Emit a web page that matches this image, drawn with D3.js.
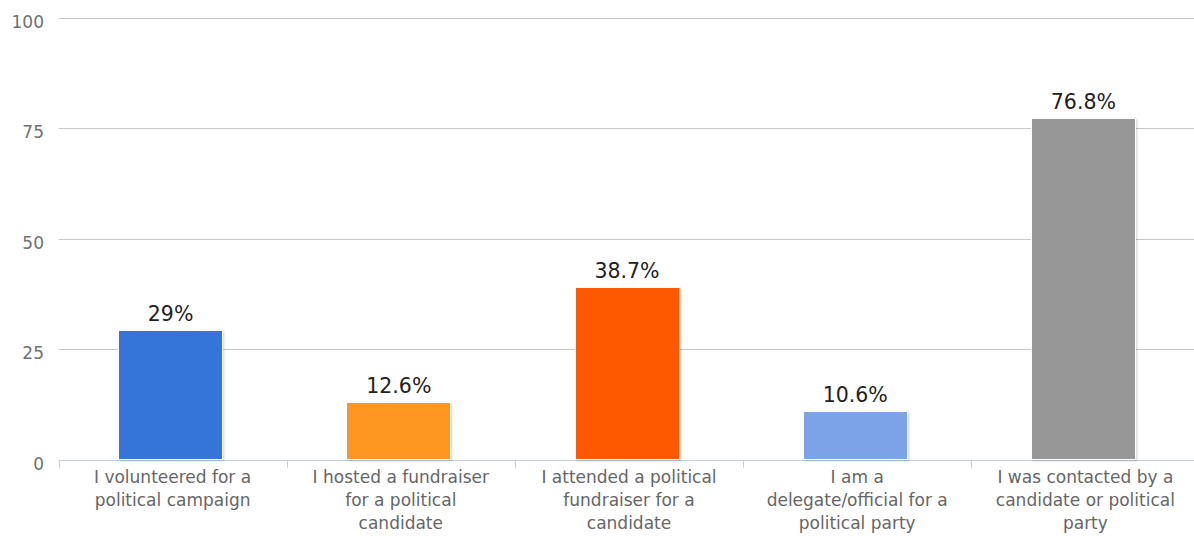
<!DOCTYPE html>
<html>
<head>
<meta charset="utf-8">
<script src="https://cdn.jsdelivr.net/npm/d3@7"></script>
<style>
  html, body { margin: 0; padding: 0; background: #fff; }
  svg { display: block; font-family: "DejaVu Sans", sans-serif; }
</style>
</head>
<body>
<svg id="chart" width="1194" height="536"></svg>
<script>
const categories = [
  "I volunteered for a\npolitical campaign",
  "I hosted a fundraiser\nfor a political\ncandidate",
  "I attended a political\nfundraiser for a\ncandidate",
  "I am a\ndelegate/official for a\npolitical party",
  "I was contacted by a\ncandidate or political\nparty"
];
const values = [29, 12.6, 38.7, 10.6, 76.8];
const valueLabels = ["29%", "12.6%", "38.7%", "10.6%", "76.8%"];
const colors = ["#3674DA", "#FE9720", "#FE5905", "#7BA3E7", "#979797"];
const yTicks = [0, 25, 50, 75, 100];

const svg = d3.select("#chart");
const margin = { left: 58.5, right: 1199.5, top: 17.5, bottom: 460 };

const defs = svg.append("defs");
const f = defs.append("filter").attr("id", "shadow")
  .attr("x", "-10%").attr("y", "-10%").attr("width", "130%").attr("height", "130%");
f.append("feDropShadow").attr("dx", 1).attr("dy", 1).attr("stdDeviation", 1)
  .attr("flood-color", "#000").attr("flood-opacity", 0.18);

const x = d3.scaleBand().domain(d3.range(categories.length))
  .range([margin.left, margin.right]).paddingInner(0).paddingOuter(0);
const y = d3.scaleLinear().domain([0, 100]).range([margin.bottom, margin.top]);

// grid lines
svg.append("g").selectAll("line").data(yTicks.filter(d => d > 0)).join("line")
  .attr("x1", margin.left).attr("x2", margin.right)
  .attr("y1", d => Math.round(y(d)) + 0.5).attr("y2", d => Math.round(y(d)) + 0.5)
  .attr("stroke", "#C8C8C8").attr("stroke-width", 1);

// y labels
svg.append("g").selectAll("text").data(yTicks).join("text")
  .attr("x", 44).attr("y", d => y(d) + 10)
  .attr("text-anchor", "end")
  .attr("font-size", 17).attr("fill", "#707070")
  .text(d => d);

// x axis line and ticks
svg.append("line")
  .attr("x1", margin.left).attr("x2", margin.right)
  .attr("y1", margin.bottom + 0.5).attr("y2", margin.bottom + 0.5)
  .attr("stroke", "#C0D0E0").attr("stroke-width", 1);
svg.append("g").selectAll("line").data(d3.range(categories.length + 1)).join("line")
  .attr("x1", d => Math.round(margin.left + d * x.step()) + 0.5)
  .attr("x2", d => Math.round(margin.left + d * x.step()) + 0.5)
  .attr("y1", margin.bottom).attr("y2", margin.bottom + 8)
  .attr("stroke", "#C0D0E0").attr("stroke-width", 1);

// bars
const barW = 104;
svg.append("g").selectAll("rect").data(values).join("rect")
  .attr("x", (d, i) => Math.round(x(i) + x.bandwidth() / 2 - barW / 2 - 2.5) + 0.5)
  .attr("y", d => Math.round(y(d)) - 1.5)
  .attr("width", barW)
  .attr("height", d => Math.round(y(0)) - Math.round(y(d)) + 1)
  .attr("fill", (d, i) => colors[i])
  .attr("stroke", "#fff").attr("stroke-width", 1)
  .attr("filter", "url(#shadow)");

// data labels
svg.append("g").selectAll("text").data(values).join("text")
  .attr("x", (d, i) => x(i) + x.bandwidth() / 2 - 2)
  .attr("y", d => y(d) - 11)
  .attr("text-anchor", "middle")
  .attr("font-size", 20.5).attr("fill", "#222")
  .text((d, i) => valueLabels[i]);

// category labels
const cg = svg.append("g").selectAll("text").data(categories).join("text")
  .attr("text-anchor", "middle")
  .attr("font-size", 17).attr("fill", "#666");
cg.each(function(d, i) {
  const t = d3.select(this);
  d.split("\n").forEach((line, k) => {
    t.append("tspan")
      .attr("x", x(i) + x.bandwidth() / 2)
      .attr("y", 483 + k * 23)
      .text(line);
  });
});
</script>
</body>
</html>
